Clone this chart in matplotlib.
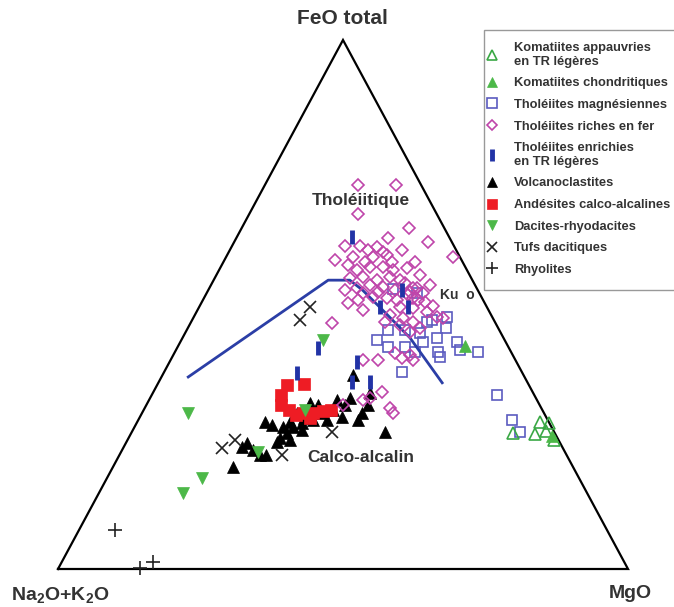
import numpy as np
import matplotlib.pyplot as plt
from matplotlib.patches import Rectangle

plt.rcParams['font.family'] = ['Liberation Sans', 'DejaVu Sans']
plt.rcParams['font.weight'] = 'bold'
plt.rcParams['mathtext.fontset'] = 'custom'
plt.rcParams['mathtext.rm'] = 'Liberation Sans:bold'
plt.rcParams['mathtext.default'] = 'regular'

# AFM compositions: FeO total (F) and MgO (M) in %, Na2O+K2O = 100 - F - M
kom_app_F = [27.8, 27.6, 25.7, 25.5, 24.4, 26.1]
kom_app_M = [70.7, 72.3, 67.0, 70.9, 74.8, 72.6]

kom_chon_F = [42.2, 25.1]
kom_chon_M = [50.3, 74.1]

thol_mg_F = [52.9, 52.2, 47.6, 47.1, 45.2, 45.2, 44.6, 43.7, 42.9, 41.0, 43.3, 42.0,
             42.0, 41.0, 42.9, 41.0, 40.1, 37.2, 32.9, 28.2, 25.9, 45.6, 46.7, 41.4]
thol_mg_M = [32.3, 36.9, 44.4, 42.1, 35.3, 38.3, 41.2, 44.7, 48.5, 53.2, 34.3, 36.9,
             39.9, 42.1, 42.6, 46.2, 47.0, 41.7, 60.6, 65.6, 68.1, 45.3, 41.4, 49.8]

thol_fe_F = [72.6, 72.6, 67.1, 64.5, 62.6, 61.8, 61.1, 61.1, 60.3, 60.9, 59.9, 60.3,
             59.0, 58.4, 59.0, 59.0, 59.4, 58.0, 56.5, 57.1, 57.1, 56.5, 56.9, 55.0,
             55.2, 54.6, 55.2, 54.6, 52.7, 53.1, 53.7, 53.3, 53.1, 52.2, 52.2, 51.4,
             51.2, 50.9, 51.2, 49.0, 49.5, 49.3, 48.6, 47.6, 47.5, 46.5, 47.5, 46.7,
             44.8, 46.1, 45.6, 52.4, 53.1, 51.8, 50.3, 39.5, 39.5, 40.8, 39.9, 40.5,
             39.5, 33.5, 32.3, 32.0, 31.0, 30.4, 29.5, 57.5, 58.0, 54.1, 52.4, 50.9,
             48.0, 50.5, 49.7, 52.7, 58.0, 55.6, 53.7, 46.7, 50.9]
thol_fe_M = [16.3, 23.0, 19.1, 29.4, 26.6, 34.0, 19.8, 22.5, 24.2, 25.5, 27.1, 30.2,
             39.8, 19.4, 22.3, 25.8, 28.0, 33.6, 24.2, 26.2, 28.5, 30.5, 32.8, 23.7,
             25.9, 28.7, 30.7, 32.7, 24.0, 25.9, 27.9, 30.4, 36.4, 38.0, 27.4, 29.6,
             32.1, 34.0, 36.7, 29.0, 35.2, 37.6, 40.5, 42.7, 43.8, 24.8, 36.8, 38.9,
             39.4, 36.9, 40.7, 35.6, 35.7, 35.5, 25.7, 33.8, 36.4, 38.7, 40.4, 41.5,
             42.5, 40.1, 38.6, 37.5, 34.5, 43.0, 44.0, 22.2, 29.6, 33.9, 30.0, 27.2,
             34.2, 39.2, 40.9, 32.8, 24.8, 35.7, 38.4, 34.0, 37.7]

thol_lree_F = [62.8, 52.7, 49.5, 49.5, 41.8, 37.1, 39.1, 35.4, 35.4]
thol_lree_M = [20.2, 34.0, 36.6, 31.7, 24.7, 23.4, 32.9, 33.9, 37.1]

volc_F = [36.7, 32.3, 32.0, 30.1, 28.7, 29.5, 33.3, 31.0, 28.2, 25.9, 31.4, 28.2,
          29.5, 28.2, 27.6, 29.5, 26.8, 25.7, 27.8, 26.8, 24.8, 24.0, 24.4, 26.3,
          27.8, 27.2, 23.8, 22.5, 21.6, 21.6, 19.3, 23.1, 31.0, 31.0, 28.6]
volc_M = [33.4, 35.1, 33.0, 33.2, 35.5, 38.6, 38.1, 38.9, 38.6, 44.4, 28.5, 30.7,
          31.6, 33.1, 29.0, 27.2, 27.8, 27.3, 26.8, 26.1, 26.6, 26.4, 28.5, 29.7,
          22.4, 23.9, 21.3, 23.0, 24.7, 25.7, 21.1, 20.8, 30.1, 34.9, 28.9]

andes_F = [34.8, 35.0, 32.9, 31.0, 30.1, 29.5, 29.5, 29.9, 30.1, 28.6, 29.1]
andes_M = [22.8, 25.7, 22.7, 23.6, 25.5, 28.2, 30.0, 31.6, 32.9, 29.9, 27.2]

dacite_F = [43.3, 30.1, 22.1, 29.5, 17.2, 14.4]
dacite_M = [24.8, 28.3, 24.0, 8.1, 16.7, 14.8]

tuf_F = [49.5, 47.1, 22.9, 24.4, 21.6, 25.9]
tuf_M = [19.5, 18.9, 17.3, 18.9, 28.5, 35.1]

rhyo_F = [7.4, 0.2, 1.3]
rhyo_M = [6.3, 14.3, 16.0]

# tholeiitic / calc-alkaline boundary
limit_F = [36.3, 54.6, 54.6, 52.7, 49.5, 43.7, 35.2]
limit_M = [4.7, 20.1, 23.9, 27.1, 31.7, 39.9, 49.8]


def tern(F, M):
    F = np.asarray(F) / 100.0
    M = np.asarray(M) / 100.0
    return M + F / 2.0, F


W, H = 674, 607
fig = plt.figure(figsize=(W / 100, H / 100), dpi=100)
ax = fig.add_axes([58 / W, 38 / H, 570 / W, 529 / H])
ax.set_xlim(0, 1)
ax.set_ylim(0, 1)
ax.axis('off')

# triangle frame
ax.plot([0, 1, 0.5, 0], [0, 0, 1, 0], color='black', lw=1.6, clip_on=False,
        solid_joinstyle='miter')

x, y = tern(thol_mg_F, thol_mg_M)
h_mg, = ax.plot(x, y, 's', ms=7.8, mfc='none', mec='#5b5bc0', mew=1.2,
                clip_on=False, label='Tholéiites magnésiennes')

x, y = tern(limit_F, limit_M)
ax.plot(x, y, color='#2b3ea6', lw=2, clip_on=False)

x, y = tern(volc_F, volc_M)
h_volc, = ax.plot(x, y, '^', ms=8.5, mfc='black', mec='black', mew=0.5,
                  clip_on=False, label='Volcanoclastites')

x, y = tern(andes_F, andes_M)
h_and, = ax.plot(x, y, 's', ms=8, mfc='#ee1c24', mec='#ee1c24', mew=0.5,
                 clip_on=False, label='Andésites calco-alcalines')

x, y = tern(thol_fe_F, thol_fe_M)
h_fe, = ax.plot(x, y, 'D', ms=6.2, mfc='none', mec='#bf45aa', mew=1.2,
                clip_on=False, label='Tholéiites riches en fer')

x, y = tern(kom_app_F, kom_app_M)
h_ka, = ax.plot(x, y, '^', ms=8, mfc='none', mec='#3aa845', mew=1.2,
                clip_on=False, label='Komatiites appauvries\nen TR légères')

x, y = tern(kom_chon_F, kom_chon_M)
h_kc, = ax.plot(x, y, '^', ms=8.5, mfc='#4cb848', mec='#4cb848', mew=0.5,
                clip_on=False, label='Komatiites chondritiques')

x, y = tern(dacite_F, dacite_M)
h_dac, = ax.plot(x, y, 'v', ms=9, mfc='#4cb848', mec='#4cb848', mew=0.5,
                 clip_on=False, label='Dacites-rhyodacites')

x, y = tern(tuf_F, tuf_M)
h_tuf, = ax.plot(x, y, 'x', ms=8.5, mec='#222222', mew=1.2,
                 clip_on=False, label='Tufs dacitiques')

x, y = tern(rhyo_F, rhyo_M)
h_rhy, = ax.plot(x, y, '+', ms=9.5, mec='#222222', mew=1.2,
                 clip_on=False, label='Rhyolites')

x, y = tern(thol_lree_F, thol_lree_M)
h_lree, = ax.plot(x, y, '|', ms=10, mec='#2233a6', mew=3.5,
                  clip_on=False, label='Tholéiites enrichies\nen TR légères')

# field and apex labels
txt = '#333333'
fig.text(342 / W, 1 - 18 / H, 'FeO total', ha='center', va='center',
         fontsize=15, color=txt)
fig.text(60 / W, 1 - 595 / H, 'Na$_2$O+K$_2$O', ha='center', va='center',
         fontsize=14, color=txt)
fig.text(630 / W, 1 - 594 / H, 'MgO', ha='center', va='center',
         fontsize=14, color=txt)
fig.text(361 / W, 1 - 201 / H, 'Tholéiitique', ha='center', va='center',
         fontsize=12.5, color=txt)
fig.text(361 / W, 1 - 458 / H, 'Calco-alcalin', ha='center', va='center',
         fontsize=12.5, color=txt)
fig.text(440 / W, 1 - 295 / H, 'Ku  o', ha='left', va='center',
         fontsize=10, color=txt)

# legend box, running off the right edge
fig.patches.append(Rectangle((484 / W, 1 - 290 / H), 220 / W, 260 / H,
                             transform=fig.transFigure, facecolor='white',
                             edgecolor='#999999', lw=1.0, zorder=3))

handles = [h_ka, h_kc, h_mg, h_fe, h_lree, h_volc, h_and, h_dac, h_tuf, h_rhy]
leg = fig.legend(handles=handles, loc='upper left',
                 bbox_to_anchor=(484 / W, 1 - 40 / H), borderaxespad=0,
                 fontsize=9.3, labelspacing=0.74, handlelength=1.0,
                 handletextpad=1.2, borderpad=0.15, markerscale=0.85,
                 frameon=False)
leg.set_zorder(4)
for t in leg.get_texts():
    t.set_color(txt)

fig.savefig('out.png', dpi=100)
